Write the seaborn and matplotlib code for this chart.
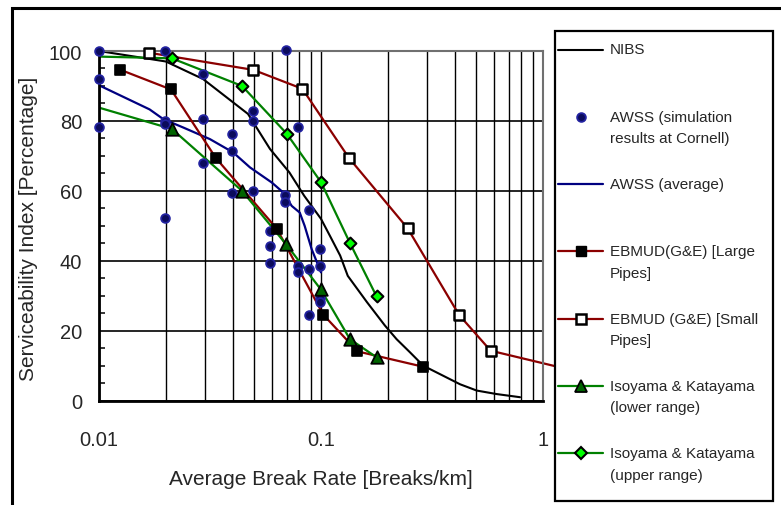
import matplotlib
matplotlib.use("Agg")
import matplotlib.pyplot as plt
import seaborn as sns
import numpy as np
from matplotlib.lines import Line2D
from matplotlib.patches import Rectangle
from matplotlib.legend_handler import HandlerLine2D
from matplotlib.ticker import FixedLocator, NullFormatter, LogLocator

sns.set_style("white")
plt.rcParams['font.family'] = ['Liberation Sans', 'DejaVu Sans']

# ---------------- data ----------------
nibs_x = [0.01, 0.02, 0.0294, 0.0469, 0.0589, 0.072, 0.084, 0.1, 0.11, 0.122,
          0.132, 0.161, 0.194, 0.219, 0.252, 0.289, 0.356, 0.423, 0.503, 0.618, 0.788]
nibs_y = [100, 97, 92, 82, 72, 65.3, 58.6, 52, 47, 41.5,
          35.7, 28.2, 21.5, 17.6, 13.8, 10.0, 7.1, 4.7, 2.9, 1.9, 1.0]

awss_sim_x = [0.01, 0.01, 0.01,
              0.0198, 0.0198, 0.0198, 0.0198,
              0.0293, 0.0293, 0.0293,
              0.0397, 0.0397, 0.0397,
              0.0496, 0.0496, 0.0496,
              0.0587, 0.0587, 0.0587,
              0.0694, 0.0688, 0.0688,
              0.079, 0.079, 0.079,
              0.0887, 0.0887, 0.0887,
              0.099, 0.099, 0.099, 0.099]
awss_sim_y = [100, 92, 78.4,
              100, 80, 79.2, 52.3,
              93.3, 80.5, 67.9,
              76.3, 71.3, 59.3,
              82.9, 80, 60,
              48.4, 44.1, 39.3,
              100.3, 58.8, 56.7,
              78.4, 38.4, 36.7,
              54.6, 37.6, 24.5,
              43.5, 38.4, 29.5, 28.3]

awss_avg_x = [0.01, 0.0169, 0.0195, 0.024, 0.0316, 0.0402, 0.0479, 0.06, 0.0677,
              0.0738, 0.0802, 0.0844, 0.0908, 0.0973, 0.1]
awss_avg_y = [90.2, 83.3, 80.5, 78.1, 74.8, 71, 66.7, 62.4, 59.5,
              55.7, 53.8, 50, 43.3, 38.6, 36.7]

ebmud_large_x = [0.0124, 0.0211, 0.0336, 0.0632, 0.1024, 0.146, 0.289]
ebmud_large_y = [94.7, 89, 69.4, 49.2, 24.6, 14.1, 9.7]

ebmud_small_x = [0.0168, 0.0496, 0.0824, 0.1337, 0.2456, 0.419, 0.581, 1.2]
ebmud_small_y = [99.5, 94.6, 89.2, 69.4, 49.3, 24.5, 14.3, 9.5]

iso_low_x = [0.01, 0.0213, 0.0441, 0.0695, 0.0996, 0.135, 0.178]
iso_low_y = [83.8, 77.7, 60, 44.8, 31.9, 17.6, 12.4]

iso_up_x = [0.01, 0.0213, 0.0441, 0.070, 0.1, 0.135, 0.178]
iso_up_y = [98.4, 97.9, 90, 76.4, 62.5, 45.1, 29.8]

x_ticks = [0.01, 0.1, 1]
x_ticklabels = ["0.01", "0.1", "1"]
y_ticks = [0, 20, 40, 60, 80, 100]

legend_labels = ["NIBS\n ",
                 "AWSS (simulation\nresults at Cornell)",
                 "AWSS (average)\n ",
                 "EBMUD(G&E) [Large\nPipes]",
                 "EBMUD (G&E) [Small\nPipes]",
                 "Isoyama & Katayama\n(lower range)",
                 "Isoyama & Katayama\n(upper range)"]

# ---------------- styles ----------------
NAVY = '#000080'
DOT_FACE = '#0b0b5c'
DOT_EDGE = '#2222a0'
DRED = '#8b0000'
GREEN = '#008000'
DGREEN = '#006400'
LIME = '#00ff00'

W, H = 781, 506
fig = plt.figure(figsize=(W / 100, H / 100), dpi=100)

# outer frame of the figure
fig.add_artist(Rectangle((12 / W, -0.05), 1.1, (1 - 9 / H) + 0.05, transform=fig.transFigure,
                         fill=False, edgecolor='black', lw=2.2, zorder=0.5, clip_on=False))

ax = fig.add_axes([99 / W, 1 - 401.7 / H, 444 / W, 349.7 / H])
ax.set_xscale('log')

# lines
sns.lineplot(x=nibs_x, y=nibs_y, ax=ax, color='black', lw=1.5, estimator=None, sort=False, zorder=2)
sns.lineplot(x=awss_avg_x, y=awss_avg_y, ax=ax, color=NAVY, lw=1.6, estimator=None, sort=False, zorder=2)
sns.lineplot(x=ebmud_large_x, y=ebmud_large_y, ax=ax, color=DRED, lw=1.6, estimator=None, sort=False, zorder=2)
sns.lineplot(x=ebmud_small_x, y=ebmud_small_y, ax=ax, color=DRED, lw=1.6, estimator=None, sort=False,
             zorder=2, clip_on=False)
sns.lineplot(x=iso_low_x, y=iso_low_y, ax=ax, color=GREEN, lw=1.6, estimator=None, sort=False, zorder=2)
sns.lineplot(x=iso_up_x, y=iso_up_y, ax=ax, color=GREEN, lw=1.6, estimator=None, sort=False, zorder=2)

# markers
sns.scatterplot(x=awss_sim_x, y=awss_sim_y, ax=ax, marker='o', s=6.3 ** 2, color=DOT_FACE,
                edgecolor=DOT_EDGE, linewidth=1.3, clip_on=False, zorder=4)
sns.scatterplot(x=ebmud_large_x, y=ebmud_large_y, ax=ax, marker='s', s=7 ** 2, color='black',
                edgecolor='black', linewidth=1.2, clip_on=False, zorder=4)
sns.scatterplot(x=ebmud_small_x[:-1], y=ebmud_small_y[:-1], ax=ax, marker='s', s=7.5 ** 2, color='white',
                edgecolor='black', linewidth=1.8, clip_on=False, zorder=4)
sns.scatterplot(x=iso_low_x[1:], y=iso_low_y[1:], ax=ax, marker='^', s=9 ** 2, color=DGREEN,
                edgecolor='black', linewidth=1.3, clip_on=False, zorder=4)
sns.scatterplot(x=iso_up_x[1:], y=iso_up_y[1:], ax=ax, marker='D', s=6 ** 2, color=LIME,
                edgecolor='black', linewidth=1.5, clip_on=False, zorder=4)

ax.set_xlim(0.01, 1)
ax.set_ylim(0, 100)

# axes / ticks
ax.xaxis.set_major_locator(FixedLocator(x_ticks))
ax.set_xticklabels(x_ticklabels)
ax.xaxis.set_minor_locator(LogLocator(base=10, subs=np.arange(2, 10)))
ax.xaxis.set_minor_formatter(NullFormatter())
ax.yaxis.set_major_locator(FixedLocator(y_ticks))
ax.yaxis.set_minor_locator(FixedLocator(np.arange(0, 101, 5)))
ax.tick_params(axis='x', which='both', length=0, labelsize=14.5, pad=21)
ax.tick_params(axis='y', which='major', length=0, labelsize=14.5, pad=12)
ax.tick_params(axis='y', which='minor', direction='in', length=4, width=1.1, color='black', left=True)

ax.set_axisbelow(True)
ax.grid(axis='x', which='both', color='black', lw=1.0)
ax.grid(axis='y', which='major', color='black', lw=1.2)

for side in ['left', 'bottom']:
    ax.spines[side].set_color('black')
    ax.spines[side].set_linewidth(2.0)
for side in ['top', 'right']:
    ax.spines[side].set_color('#707070')
    ax.spines[side].set_linewidth(1.5)

ax.set_xlabel("Average Break Rate [Breaks/km]", fontsize=15)
ax.set_ylabel("Serviceability Index [Percentage]", fontsize=15)
ax.xaxis.set_label_coords(0.5, -0.194)
ax.yaxis.set_label_coords(-0.137, 0.495)

# legend box
fig.add_artist(Rectangle((555 / W, 1 - 502 / H), 218 / W, 470 / H, transform=fig.transFigure,
                         facecolor='white', edgecolor='black', lw=1.6, zorder=1))


class ShiftedHandler(HandlerLine2D):
    def __init__(self, dy=0.0, **kw):
        super().__init__(**kw)
        self.dy = dy

    def create_artists(self, legend, orig_handle, xdescent, ydescent, width, height, fontsize, trans):
        return super().create_artists(legend, orig_handle, xdescent, ydescent - self.dy,
                                      width, height, fontsize, trans)


handles = [
    Line2D([], [], color='black', lw=1.5),
    Line2D([], [], ls='none', marker='o', ms=6.3, mfc=DOT_FACE, mec=DOT_EDGE, mew=1.3),
    Line2D([], [], color=NAVY, lw=1.6),
    Line2D([], [], color=DRED, lw=1.6, marker='s', ms=7, mfc='black', mec='black'),
    Line2D([], [], color=DRED, lw=1.6, marker='s', ms=7, mfc='white', mec='black', mew=1.8),
    Line2D([], [], color=GREEN, lw=1.6, marker='^', ms=9, mfc=DGREEN, mec='black', mew=1.3),
    Line2D([], [], color=GREEN, lw=1.6, marker='D', ms=6, mfc=LIME, mec='black', mew=1.5),
]
handler = ShiftedHandler(dy=15.5)
leg = fig.legend(handles, legend_labels, loc='upper left',
                 bbox_to_anchor=(558 / W, 1 - 43.5 / H), frameon=False,
                 fontsize=11, handlelength=2.95, handletextpad=0.46, labelspacing=2.08,
                 borderpad=0, borderaxespad=0, numpoints=1,
                 handler_map={Line2D: handler})
leg.set_zorder(5)
for t in leg.get_texts():
    t.set_linespacing(1.68)

fig.savefig("out.png", dpi=100)
